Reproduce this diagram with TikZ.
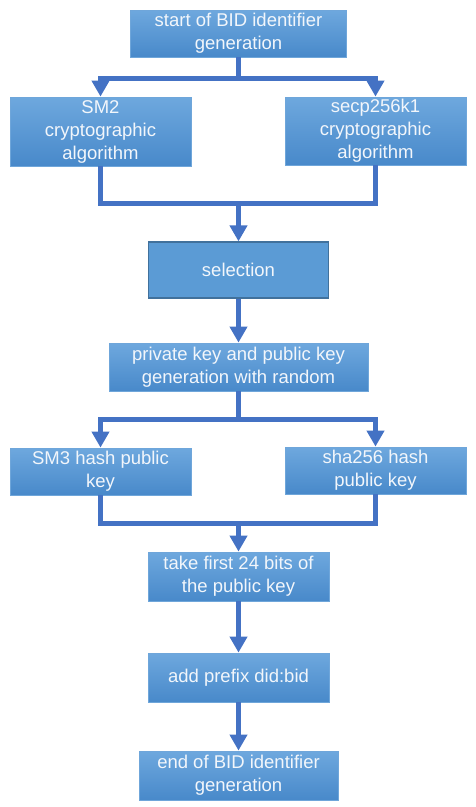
\documentclass[tikz,border=0pt]{standalone}
\usepackage{fontspec}
\setmainfont{Liberation Sans}
\usetikzlibrary{arrows.meta}
\definecolor{boxtop}{HTML}{6EA8DE}
\definecolor{boxbot}{HTML}{4889CA}
\definecolor{boxedge}{HTML}{6FA6DA}
\definecolor{selfill}{HTML}{5B9BD5}
\definecolor{seledge}{HTML}{41719C}
\definecolor{conncol}{HTML}{4472C4}
\definecolor{txtcol}{HTML}{F2F6FB}
\begin{document}
\begin{tikzpicture}[x=1pt,y=-1pt,
  box/.style={draw=boxedge, line width=0.8pt, top color=boxtop, bottom color=boxbot,
    text=txtcol, align=center, inner sep=0pt,
    font=\fontsize{18.5}{23}\selectfont},
  selbox/.style={box, draw=seledge, fill=selfill, top color=selfill, bottom color=selfill, line width=1.2pt},
  conn/.style={draw=conncol, line width=5pt},
  arr/.style={-{Triangle[width=17pt,length=16pt]}}
]
\useasboundingbox (0,0) rectangle (476,807);
\node[box, minimum width=216pt, minimum height=47pt] (start) at (238.5,33.5) {start of BID identifier\\generation};
\node[box, minimum width=181pt, minimum height=69pt] (sm2) at (100.5,131.5) {SM2\\cryptographic\\algorithm};
\node[box, minimum width=181pt, minimum height=68pt] (secp) at (375.5,131) {secp256k1\\cryptographic\\algorithm};
\node[selbox, minimum width=180pt, minimum height=56pt] (sel) at (238.5,270) {selection};
\node[box, minimum width=259pt, minimum height=48pt] (priv) at (238.5,367) {private key and public key\\generation with random};
\node[box, minimum width=181pt, minimum height=47pt] (sm3) at (100.5,471.5) {SM3 hash public\\key};
\node[box, minimum width=181pt, minimum height=47pt] (sha) at (375.5,470.5) {sha256 hash\\public key};
\node[box, minimum width=181pt, minimum height=49pt] (take) at (238.5,576.5) {take first 24 bits of\\the public key};
\node[box, minimum width=181pt, minimum height=49pt] (add) at (238.5,677.5) {add prefix did:bid};
\node[box, minimum width=199pt, minimum height=49pt] (end) at (238.5,775.5) {end of BID identifier\\generation};
\coordinate (j1) at (238.5,78);
\coordinate (j2) at (238.5,203);
\coordinate (j3) at (238.5,419);
\coordinate (j4) at (238.5,523);
\draw[conn] (start.south) -- (j1);
\draw[conn,arr] (j1) -| (sm2.north);
\draw[conn,arr] (j1) -| (secp.north);
\draw[conn] (sm2.south) |- (j2) -| (secp.south);
\draw[conn,arr] (j2) -- (sel.north);
\draw[conn,arr] (sel.south) -- (priv.north);
\draw[conn] (priv.south) -- (j3);
\draw[conn,arr] (j3) -| (sm3.north);
\draw[conn,arr] (j3) -| (sha.north);
\draw[conn] (sm3.south) |- (j4) -| (sha.south);
\draw[conn,arr] (j4) -- (take.north);
\draw[conn,arr] (take.south) -- (add.north);
\draw[conn,arr] (add.south) -- (end.north);
\end{tikzpicture}
\end{document}
